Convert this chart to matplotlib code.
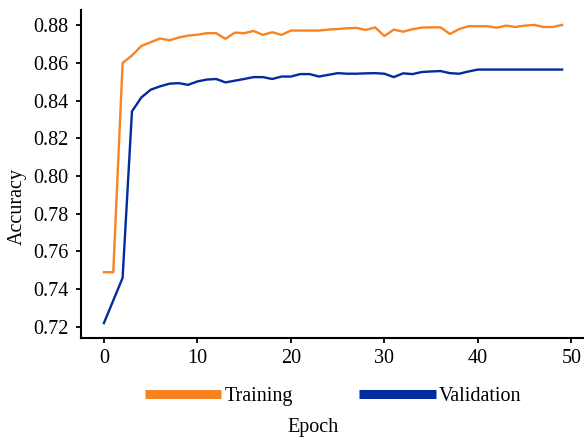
import matplotlib
matplotlib.use('Agg')
import matplotlib.pyplot as plt

# Accuracy per epoch
epochs = list(range(50))
train_acc = [0.749, 0.749, 0.860, 0.864, 0.869, 0.871, 0.873, 0.872, 0.8735, 0.8745,
             0.875, 0.8758, 0.8758, 0.8728, 0.8761, 0.8758, 0.877, 0.8749, 0.8763, 0.8749,
             0.8772, 0.8772, 0.8772, 0.8772, 0.8777, 0.878, 0.8784, 0.8786, 0.8775, 0.8789,
             0.8743, 0.8777, 0.8766, 0.8779, 0.8788, 0.8789, 0.8789, 0.8754, 0.878, 0.8795,
             0.8795, 0.8795, 0.8787, 0.8798, 0.8791, 0.8798, 0.8802, 0.8791, 0.8791, 0.8802]
val_acc = [0.722, 0.734, 0.746, 0.8343, 0.8417, 0.8458, 0.8476, 0.849, 0.8493, 0.8484,
           0.8502, 0.8512, 0.8515, 0.8497, 0.8506, 0.8515, 0.8525, 0.8525, 0.8515, 0.8528,
           0.8528, 0.8541, 0.8541, 0.8528, 0.8537, 0.8546, 0.8543, 0.8543, 0.8545, 0.8546,
           0.8543, 0.8525, 0.8545, 0.8541, 0.8552, 0.8555, 0.8557, 0.8546, 0.8543, 0.8555,
           0.8565, 0.8565, 0.8565, 0.8565, 0.8565, 0.8565, 0.8565, 0.8565, 0.8565, 0.8565]
yticks = [0.72, 0.74, 0.76, 0.78, 0.80, 0.82, 0.84, 0.86, 0.88]
xticks = [0, 10, 20, 30, 40, 50]

plt.rcParams['font.family'] = ['Liberation Serif', 'DejaVu Serif']
plt.rcParams['font.size'] = 14.5

fig = plt.figure(figsize=(5.84, 4.44), dpi=100)
ax = fig.add_axes([81 / 584, 106 / 444, 504 / 584, 328 / 444])

ax.plot(epochs, train_acc, color='#F98320', lw=1.7, label='Training')
ax.plot(epochs, val_acc, color='#022C9E', lw=1.7, label='Validation')

ax.set_xlim(-2.45, 51.45)
ax.set_ylim(0.7141, 0.8881)
ax.set_xticks(xticks)
ax.set_yticks(yticks)
ax.set_yticklabels(['%.2f' % t for t in yticks])

for side in ['top', 'right']:
    ax.spines[side].set_visible(False)
for side in ['left', 'bottom']:
    ax.spines[side].set_linewidth(1.5)
ax.tick_params(axis='both', length=3.6, width=1.3, colors='black')
ax.tick_params(axis='x', pad=4)
ax.tick_params(axis='y', pad=5.5)

ax.set_ylabel('Accuracy')
ax.yaxis.set_label_coords(-0.107, 0.40)
ax.set_xlabel('Epoch')
ax.xaxis.set_label_coords(0.46, -0.245)

leg = ax.legend(loc='center', bbox_to_anchor=(0.5, -0.177), ncol=2, frameon=False,
                handlelength=3.8, handletextpad=0.15, columnspacing=3.3, borderpad=0)
for line in leg.get_lines():
    line.set_linewidth(6.5)
    line.set_solid_capstyle('butt')

fig.savefig('out.png', dpi=100)
